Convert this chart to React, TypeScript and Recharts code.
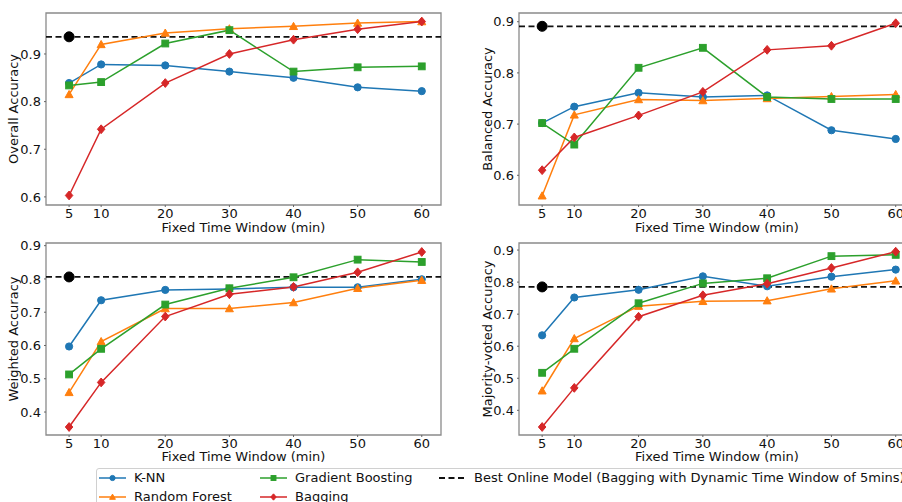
import React from 'react'
import {
  LineChart,
  Line,
  XAxis,
  YAxis,
  ReferenceLine,
  ReferenceDot,
  ReferenceArea,
} from 'recharts'

// fixed time windows (min)
const windows = [5, 10, 20, 30, 40, 50, 60]
const xTicks = [5, 10, 20, 30, 40, 50, 60]

// Overall accuracy
const overallKnn = [0.839, 0.878, 0.876, 0.863, 0.85, 0.83, 0.822]
const overallRf = [0.815, 0.92, 0.944, 0.953, 0.958, 0.965, 0.968]
const overallGb = [0.834, 0.841, 0.922, 0.95, 0.863, 0.872, 0.874]
const overallBag = [0.603, 0.742, 0.839, 0.9, 0.93, 0.952, 0.968]
const overallBest = 0.936

// Balanced accuracy
const balancedKnn = [0.702, 0.734, 0.761, 0.753, 0.756, 0.688, 0.671]
const balancedRf = [0.56, 0.718, 0.748, 0.746, 0.75, 0.754, 0.758]
const balancedGb = [0.702, 0.66, 0.81, 0.849, 0.753, 0.749, 0.749]
const balancedBag = [0.61, 0.674, 0.717, 0.763, 0.845, 0.853, 0.897]
const balancedBest = 0.891

// Weighted accuracy
const weightedKnn = [0.597, 0.736, 0.767, 0.77, 0.775, 0.775, 0.799]
const weightedRf = [0.459, 0.612, 0.711, 0.711, 0.729, 0.772, 0.796]
const weightedGb = [0.513, 0.59, 0.723, 0.772, 0.805, 0.858, 0.851]
const weightedBag = [0.355, 0.489, 0.687, 0.754, 0.776, 0.82, 0.881]
const weightedBest = 0.806

// Majority-voted accuracy
const majorityKnn = [0.634, 0.752, 0.776, 0.818, 0.787, 0.817, 0.839]
const majorityRf = [0.461, 0.624, 0.725, 0.74, 0.742, 0.779, 0.804]
const majorityGb = [0.517, 0.592, 0.734, 0.796, 0.812, 0.881, 0.885]
const majorityBag = [0.348, 0.47, 0.692, 0.759, 0.795, 0.844, 0.895]
const majorityBest = 0.785

const SERIES = [
  { key: 'knn', name: 'K-NN', color: '#1f77b4', shape: 'circle' },
  { key: 'rf', name: 'Random Forest', color: '#ff7f0e', shape: 'triangle' },
  { key: 'gb', name: 'Gradient Boosting', color: '#2ca02c', shape: 'square' },
  { key: 'bag', name: 'Bagging', color: '#d62728', shape: 'diamond' },
]

const BEST_LABEL = 'Best Online Model (Bagging with Dynamic Time Window of 5mins)'
const X_LABEL = 'Fixed Time Window (min)'
const FONT = '"DejaVu Sans", sans-serif'
const X_DOMAIN = [1.4, 63]

function marker(shape: string, cx: number, cy: number, color: string, s = 1, key?: any) {
  if (cx == null || cy == null) return <g key={key} />
  if (shape === 'circle')
    return <circle key={key} cx={cx} cy={cy} r={3.6 * s} fill={color} stroke={color} />
  if (shape === 'square') {
    const h = 3.4 * s
    return <rect key={key} x={cx - h} y={cy - h} width={h * 2} height={h * 2} fill={color} stroke={color} />
  }
  if (shape === 'triangle') {
    const h = 4 * s
    return (
      <path
        key={key}
        d={`M${cx},${cy - h} L${cx + h},${cy + h * 0.8} L${cx - h},${cy + h * 0.8} Z`}
        fill={color}
        stroke={color}
      />
    )
  }
  const h = 4.4 * s
  return (
    <path
      key={key}
      d={`M${cx},${cy - h} L${cx + h * 0.85},${cy} L${cx},${cy + h} L${cx - h * 0.85},${cy} Z`}
      fill={color}
      stroke={color}
    />
  )
}

function buildRows(knn: number[], rf: number[], gb: number[], bag: number[]) {
  return windows.map((x, i) => ({ x, knn: knn[i], rf: rf[i], gb: gb[i], bag: bag[i] }))
}

interface PanelProps {
  left: number
  top: number
  width: number
  height: number
  axisWidth: number
  marginRight: number
  xAxisHeight: number
  labelOffset: number
  yLabel: string
  yLabelX: number
  yDomain: number[]
  yTicks: number[]
  rows: any[]
  best: number
}

function Panel(p: PanelProps) {
  const plotTop = 13
  const plotH = p.height - plotTop - p.xAxisHeight
  const tick = { fill: '#111', fontSize: 13, fontFamily: FONT }
  return (
    <div style={{ position: 'absolute', left: p.left, top: p.top, width: p.width, height: p.height }}>
      <LineChart
        width={p.width}
        height={p.height}
        data={p.rows}
        margin={{ top: plotTop, right: p.marginRight, left: 0, bottom: 0 }}
      >
        <XAxis
          dataKey="x"
          type="number"
          domain={X_DOMAIN}
          ticks={xTicks}
          allowDataOverflow
          height={p.xAxisHeight}
          axisLine={false}
          tickSize={2}
          tickMargin={2}
          tickLine={{ stroke: '#666' }}
          tick={tick}
          label={{
            value: X_LABEL,
            position: 'insideBottom',
            offset: p.labelOffset,
            style: { fill: '#111', fontSize: 13, fontFamily: FONT },
          }}
        />
        <YAxis
          type="number"
          domain={p.yDomain}
          ticks={p.yTicks}
          allowDataOverflow
          width={p.axisWidth}
          axisLine={false}
          tickSize={2}
          tickMargin={3}
          tickLine={{ stroke: '#666' }}
          tick={tick}
          tickFormatter={(v: number) => v.toFixed(1)}
        />
        <ReferenceArea
          x1={X_DOMAIN[0]}
          x2={X_DOMAIN[1]}
          y1={p.yDomain[0]}
          y2={p.yDomain[1]}
          fill="none"
          stroke="#8a8a8a"
          strokeWidth={1.3}
        />
        <ReferenceLine y={p.best} stroke="#111" strokeWidth={1.8} strokeDasharray="6 3.5" />
        {SERIES.map((s) => (
          <Line
            key={s.key}
            dataKey={s.key}
            name={s.name}
            stroke={s.color}
            strokeWidth={1.5}
            type="linear"
            isAnimationActive={false}
            dot={(d: any) => marker(s.shape, d.cx, d.cy, s.color, 1, `${s.key}-${d.index}`)}
            activeDot={false}
          />
        ))}
        <ReferenceDot x={5} y={p.best} r={5} fill="#000" stroke="#000" />
      </LineChart>
      <svg
        width={p.width}
        height={p.height}
        style={{ position: 'absolute', left: 0, top: 0, pointerEvents: 'none' }}
      >
        <text
          x={p.yLabelX}
          y={plotTop + plotH / 2}
          transform={`rotate(-90 ${p.yLabelX} ${plotTop + plotH / 2})`}
          textAnchor="middle"
          dominantBaseline="central"
          fontSize={13}
          fontFamily={FONT}
          fill="#111"
        >
          {p.yLabel}
        </text>
      </svg>
    </div>
  )
}

function LegendBox() {
  const cols = [
    { s: SERIES[0], x: 99, y: 478 },
    { s: SERIES[1], x: 99, y: 497 },
    { s: SERIES[2], x: 260, y: 478 },
    { s: SERIES[3], x: 260, y: 497 },
  ]
  const textStyle: React.CSSProperties = {
    position: 'absolute',
    fontFamily: FONT,
    fontSize: 13,
    color: '#111',
    whiteSpace: 'nowrap',
    lineHeight: '15px',
  }
  return (
    <>
      <div
        style={{
          position: 'absolute',
          left: 96,
          top: 468,
          width: 840,
          height: 60,
          border: '1px solid #d0d0d0',
          borderRadius: 3,
          background: 'rgba(255,255,255,0.9)',
        }}
      />
      <svg width={902} height={502} style={{ position: 'absolute', left: 0, top: 0 }}>
        {cols.map(({ s, x, y }) => (
          <g key={s.key}>
            <line x1={x} y1={y} x2={x + 27} y2={y} stroke={s.color} strokeWidth={1.5} />
            {marker(s.shape, x + 13.5, y, s.color, 0.72)}
          </g>
        ))}
        <line x1={439} y1={478} x2={467} y2={478} stroke="#111" strokeWidth={1.8} strokeDasharray="6 3.5" />
      </svg>
      {cols.map(({ s, x, y }) => (
        <div key={s.key} style={{ ...textStyle, left: x + 35, top: y - 8 }}>
          {s.name}
        </div>
      ))}
      <div style={{ ...textStyle, left: 474, top: 470 }}>{BEST_LABEL}</div>
    </>
  )
}

export default function App() {
  return (
    <div
      style={{
        position: 'absolute',
        left: 0,
        top: 0,
        width: 902,
        height: 502,
        overflow: 'hidden',
        background: '#fff',
        fontFamily: FONT,
      }}
    >
      <Panel
        left={0}
        top={0}
        width={450}
        height={234}
        axisWidth={46}
        marginRight={9}
        xAxisHeight={29}
        labelOffset={2.5}
        yLabel="Overall Accuracy"
        yLabelX={13}
        yDomain={[0.583, 0.986]}
        yTicks={[0.6, 0.7, 0.8, 0.9]}
        rows={buildRows(overallKnn, overallRf, overallGb, overallBag)}
        best={overallBest}
      />
      <Panel
        left={450}
        top={0}
        width={470}
        height={234}
        axisWidth={69}
        marginRight={5}
        xAxisHeight={29}
        labelOffset={2.5}
        yLabel="Balanced Accuracy"
        yLabelX={37}
        yDomain={[0.542, 0.917]}
        yTicks={[0.6, 0.7, 0.8, 0.9]}
        rows={buildRows(balancedKnn, balancedRf, balancedGb, balancedBag)}
        best={balancedBest}
      />
      <Panel
        left={0}
        top={230}
        width={450}
        height={233}
        axisWidth={46}
        marginRight={9}
        xAxisHeight={28}
        labelOffset={2}
        yLabel="Weighted Accuracy"
        yLabelX={13}
        yDomain={[0.331, 0.908]}
        yTicks={[0.4, 0.5, 0.6, 0.7, 0.8, 0.9]}
        rows={buildRows(weightedKnn, weightedRf, weightedGb, weightedBag)}
        best={weightedBest}
      />
      <Panel
        left={450}
        top={230}
        width={470}
        height={233}
        axisWidth={69}
        marginRight={5}
        xAxisHeight={28}
        labelOffset={2}
        yLabel="Majority-voted Accuracy"
        yLabelX={37}
        yDomain={[0.323, 0.922]}
        yTicks={[0.4, 0.5, 0.6, 0.7, 0.8, 0.9]}
        rows={buildRows(majorityKnn, majorityRf, majorityGb, majorityBag)}
        best={majorityBest}
      />
      <LegendBox />
    </div>
  )
}
